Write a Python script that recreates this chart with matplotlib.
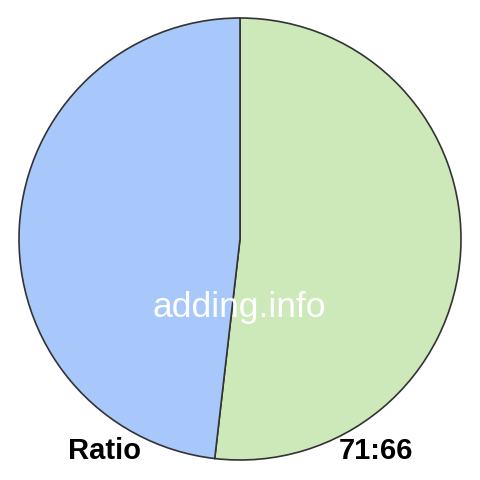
import matplotlib.pyplot as plt

labels = ['71', '66']
values = [71, 66]
colors = ['#cde8b9', '#a8c7fa']
left_text = 'Ratio'
right_text = '71:66'
watermark = 'adding.info'

plt.rcParams['font.family'] = ['Liberation Sans', 'DejaVu Sans']

fig = plt.figure(figsize=(4.8, 4.8), dpi=100)
ax = fig.add_axes([0, 0, 1, 1])

ax.pie(values, colors=colors, startangle=90, counterclock=False,
       center=(240, 241), radius=221, frame=True,
       wedgeprops={'edgecolor': '#333333', 'linewidth': 1.2})
ax.set_xlim(0, 480)
ax.set_ylim(0, 480)
ax.set_aspect('auto')
ax.axis('off')

ax.text(239, 173, watermark, color='white', fontsize=25.5,
        ha='center', va='center')
ax.text(104, 29, left_text, fontsize=21, fontweight='bold',
        ha='center', va='center')
ax.text(376, 29, right_text, fontsize=21, fontweight='bold',
        ha='center', va='center')

fig.savefig('out.png', dpi=100)
